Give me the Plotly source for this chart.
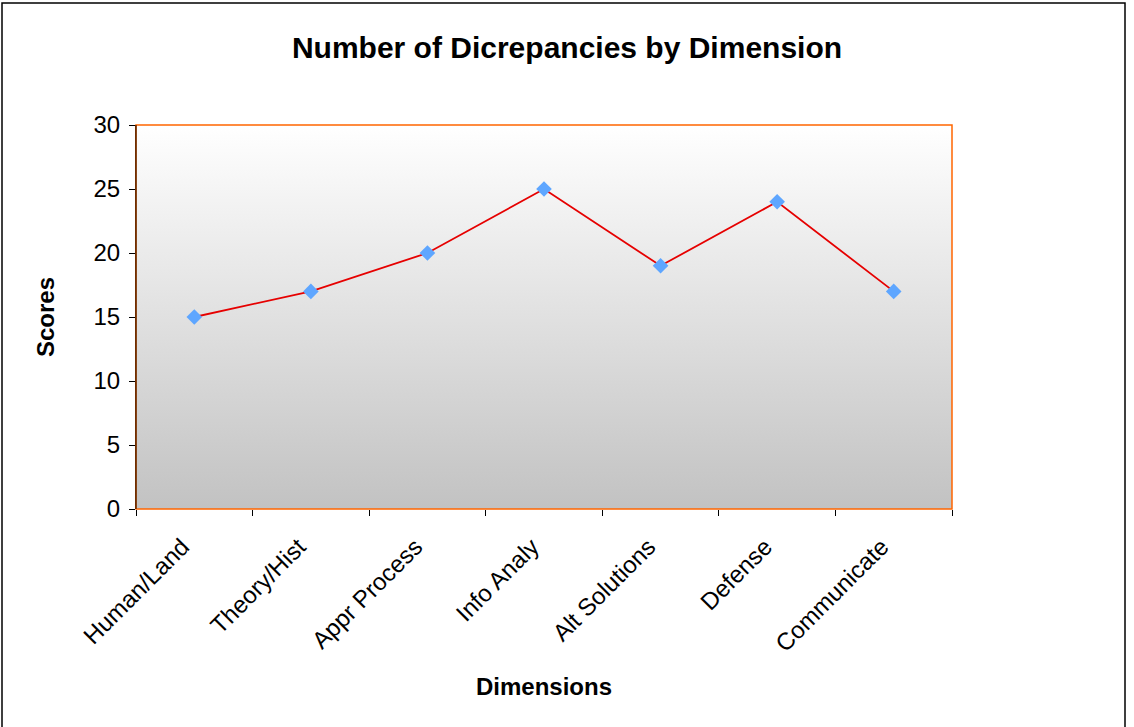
import plotly.graph_objects as go

# Chart data
dimensions = ["Human/Land", "Theory/Hist", "Appr Process", "Info Analy",
              "Alt Solutions", "Defense", "Communicate"]
scores = [15, 17, 20, 25, 19, 24, 17]
y_ticks = [0, 5, 10, 15, 20, 25, 30]

W, H = 1134, 727
L, R, T, B = 136, 952, 125, 509  # plot-area edges in pixels

def px_x(p):
    return (p - L) / (R - L)

def px_y(p):
    return (B - p) / (B - T)

n = len(dimensions)
idx = list(range(n))

fig = go.Figure()

# gradient plot background (white at top, grey at bottom)
fig.add_trace(go.Scatter(
    x=[-0.5, n - 0.5, n - 0.5, -0.5, -0.5],
    y=[y_ticks[0], y_ticks[0], y_ticks[-1], y_ticks[-1], y_ticks[0]],
    fill="toself", mode="none", hoverinfo="skip", showlegend=False,
    fillgradient=dict(type="vertical",
                      colorscale=[[0, "#c2c2c2"], [1, "#ffffff"]]),
))

fig.add_trace(go.Scatter(
    x=idx, y=scores, mode="lines+markers",
    line=dict(color="#e60000", width=1.8),
    marker=dict(symbol="diamond", size=12, color="#5ea6ff",
                line=dict(width=0)),
    showlegend=False,
))

fig.update_layout(
    width=W, height=H,
    margin=dict(l=L, r=W - R, t=T, b=H - B),
    paper_bgcolor="white", plot_bgcolor="rgba(0,0,0,0)",
    font=dict(family="Liberation Sans, Arial, sans-serif", color="black"),
    title=dict(text="<b>Number of Dicrepancies by Dimension</b>",
               x=0.5, xanchor="center", y=1 - 47 / H, yanchor="middle",
               font=dict(size=30)),
    xaxis=dict(
        range=[-0.5, n - 0.5], tickmode="array", tickvals=idx,
        ticktext=dimensions, tickangle=-45, ticks="",
        tickfont=dict(size=24), showgrid=False, zeroline=False,
        showline=False, ticklabelstandoff=18, ticklabelshift=-12,
        minor=dict(tickmode="array", tickvals=[i - 0.5 for i in range(n + 1)],
                   ticks="outside", ticklen=6, tickcolor="black",
                   showgrid=False),
        title=dict(text="<b>Dimensions</b>", font=dict(size=24), standoff=22),
    ),
    yaxis=dict(
        range=[0, 30], tickmode="array", tickvals=y_ticks,
        tickfont=dict(size=24), ticks="outside", ticklen=6,
        tickcolor="black", showgrid=True, gridcolor="black", gridwidth=1,
        zeroline=False, showline=True, linecolor="black", linewidth=1,
        ticklabelstandoff=4,
        title=dict(text="<b>Scores</b>", font=dict(size=24), standoff=32),
    ),
)

# orange plot-area border
fig.add_shape(type="rect", xref="paper", yref="paper", x0=0, x1=1, y0=0, y1=1,
              line=dict(color="#ff6600", width=1.5), layer="above")
# left axis line drawn over the border
fig.add_shape(type="line", xref="paper", yref="paper", x0=0, x1=0, y0=0, y1=1,
              line=dict(color="#3a1a00", width=1.2), layer="above")
# outer chart frame
fig.add_shape(type="rect", xref="paper", yref="paper",
              x0=px_x(2), x1=px_x(1125), y0=px_y(740), y1=px_y(3),
              line=dict(color="black", width=1.5), layer="above")

fig.write_html("out.html")
